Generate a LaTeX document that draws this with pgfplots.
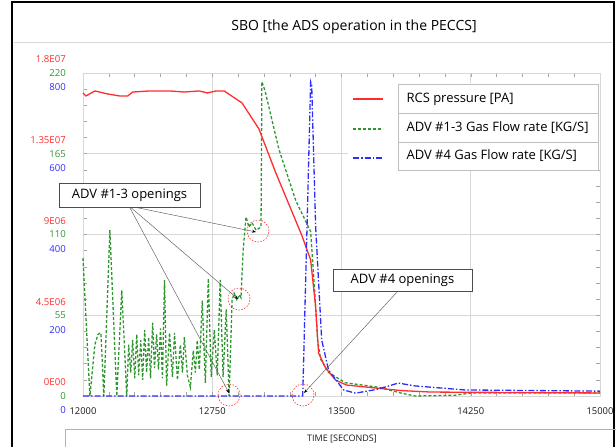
\documentclass[border=0pt]{standalone}
\usepackage{pgfplots}
\pgfplotsset{compat=1.18}
\usetikzlibrary{arrows.meta}
\usepackage{fontspec}
\setmainfont{Open Sans}

\definecolor{cred}{RGB}{255,45,45}
\definecolor{cgreen}{RGB}{45,150,45}
\definecolor{cblue}{RGB}{45,45,255}
\definecolor{gridc}{RGB}{215,215,215}

\pgfplotsset{
  base/.style={
    at={(83pt,51pt)}, anchor=south west, scale only axis,
    width=517pt, height=323pt,
    xmin=12000, xmax=15000,
    scaled ticks=false, clip=false,
    yticklabel style={font=\fontsize{9.6}{10}\selectfont, anchor=east, inner sep=0pt, xshift=-17pt},
  },
  bare/.style={
    axis line style={draw=none}, major tick style={draw=none}, minor tick style={draw=none},
    xtick=\empty,
  },
}

\begin{document}
\begin{tikzpicture}
\useasboundingbox (0,0) rectangle (616pt,447pt);

% ADV #1-3 gas flow, axis with grid
\begin{axis}[base,
  ymin=0, ymax=220,
  xtick={12000,12750,13500,14250,15000},
  xticklabels={12000,12750,13500,14250,15000},
  ytick={0,55,110,165,220},
  yticklabels={0,55,110,165,220},
  minor x tick num=4, minor y tick num=4,
  grid=major, grid style={gridc, line width=0.7pt},
  axis line style={gridc, line width=0.7pt},
  tick style={black!35, line width=0.5pt},
  major tick length=4pt, minor tick length=4pt,
  xticklabel style={font=\fontsize{9.4}{10}\selectfont, text=black!90, anchor=center, yshift=-15pt},
  yticklabel style={text=cgreen},
]
\addplot[cgreen, line width=1.3pt, dash pattern=on 3pt off 2pt] coordinates {
(12000,94) (12040,0) (12069,35) (12087,42) (12104,43) (12121,0) (12156,113)
(12196,0) (12225,72) (12254,0) (12265,35) (12277,16) (12288,38) (12300,12)
(12312,42) (12323,14) (12335,38) (12346,11) (12358,45) (12369,16) (12381,40)
(12392,12) (12404,50) (12415,19) (12427,42) (12438,18) (12450,46) (12461,12)
(12473,79) (12485,7) (12502,43) (12519,13) (12531,43) (12548,11) (12565,35)
(12577,16) (12588,40) (12606,14) (12623,6) (12640,31) (12652,16) (12663,38)
(12675,18) (12692,65) (12710,9) (12727,80) (12744,13) (12762,45) (12779,14)
(12796,79) (12813,13) (12831,59) (12848,0) (12865,65) (12877,70) (12894,65)
(12906,69) (12917,67) (12929,99) (12946,122) (12963,115) (12981,118) (13004,113)
(13033,115) (13038,214) (13056,208) (13137,168) (13235,133) (13321,112)
(13344,72) (13361,38) (13379,25) (13425,16) (13523,9) (13713,6) (13846,2)
(13927,0) (14158,0.5) (14250,2) (15000,2)
};
\end{axis}

% RCS pressure
\begin{axis}[base, bare,
  ymin=0, ymax=1.8e7,
  ytick={0,4.5e6,9e6,1.35e7,1.8e7},
  yticklabels={0E00,4.5E06,9E06,1.35E07,1.8E07},
  yticklabel style={text=cred, yshift=13.5pt},
]
\addplot[cred, line width=1.3pt] coordinates {
(12000,1.689e7) (12017,1.672e7) (12069,1.700e7) (12144,1.683e7) (12213,1.672e7)
(12260,1.672e7) (12288,1.694e7) (12387,1.700e7) (12502,1.700e7) (12588,1.694e7)
(12675,1.700e7) (12721,1.689e7) (12773,1.700e7) (12819,1.700e7) (12923,1.633e7)
(13021,1.488e7) (13119,1.243e7) (13269,8.97e6) (13321,7.58e6) (13350,4.96e6)
(13367,2.40e6) (13408,1.56e6) (13465,8.9e5) (13529,6.1e5) (13713,4.3e5)
(13850,3.0e5) (14019,2.2e5) (15000,1.7e5)
};
\end{axis}

% ADV #4 gas flow
\begin{axis}[base, bare,
  ymin=0, ymax=800,
  ytick={0,200,400,600,800},
  yticklabels={0,200,400,600,800},
  yticklabel style={text=cblue, yshift=-14.5pt},
]
\addplot[cblue, line width=1.3pt, dash pattern=on 6pt off 2pt on 1.5pt off 2pt] coordinates {
(12000,0) (13275,0) (13298,386) (13321,778) (13327,770) (13350,419) (13385,139)
(13425,64) (13512,15) (13581,7) (13713,17) (13829,32) (13927,25) (14215,15)
(15000,12)
};
\end{axis}

% frame and title
\draw[black, line width=2pt] (12pt,-3pt) -- (12pt,445pt) -- (614pt,445pt) -- (614pt,-3pt);
\draw[gridc, line width=0.7pt] (14pt,405pt) -- (612pt,405pt);
\node[font=\fontsize{14}{16}\selectfont, text=black] at (354pt,420pt) {SBO [the ADS operation in the PECCS]};
\draw[black!30, line width=0.7pt] (65pt,-5pt) -- (65pt,18pt) -- (620pt,18pt);
\node[font=\fontsize{9}{10}\selectfont, text=black!90] at (342pt,8pt) {TIME [SECONDS]};

% legend
\fill[white] (348pt,277pt) rectangle (600pt,364pt);
\draw[cred, line width=1.3pt] (353pt,348pt) -- (383pt,348pt);
\draw[cgreen, line width=1.3pt, dash pattern=on 3pt off 2pt] (353pt,318pt) -- (383pt,318pt);
\draw[cblue, line width=1.3pt, dash pattern=on 6pt off 2pt on 1.5pt off 2pt] (353pt,289pt) -- (383pt,289pt);
\draw[black!25, line width=0.8pt] (398pt,334pt) rectangle (598pt,363pt);
\draw[black!25, line width=0.8pt] (398pt,305pt) rectangle (598pt,334pt);
\draw[black!25, line width=0.8pt] (398pt,277pt) rectangle (598pt,305pt);
\node[anchor=west, font=\fontsize{13}{14}\selectfont] at (403pt,348pt) {RCS pressure [PA]};
\node[anchor=west, font=\fontsize{13}{14}\selectfont] at (403pt,319pt) {ADV \#1-3 Gas Flow rate [KG/S]};
\node[anchor=west, font=\fontsize{13}{14}\selectfont] at (403pt,291pt) {ADV \#4 Gas Flow rate [KG/S]};

% annotations
\tikzset{circ/.style={cred, line width=0.6pt, dash pattern=on 1.5pt off 1.5pt},
         arr/.style={black!60, line width=0.5pt, -{Stealth[length=4pt, width=3pt, black]}}}
\draw[circ] (258pt,216pt) circle (11pt);
\draw[circ] (239pt,148pt) circle (11pt);
\draw[circ] (229pt,52pt) circle (11pt);
\draw[circ] (303pt,52pt) circle (11pt);
\draw[arr] (129pt,241pt) -- (256pt,215pt);
\draw[arr] (129pt,241pt) -- (238pt,148pt);
\draw[arr] (129pt,241pt) -- (229pt,54pt);
\draw[arr] (398pt,156pt) -- (304pt,54pt);
\draw[black!70, fill=white, line width=0.7pt] (59pt,240pt) rectangle (200pt,264pt);
\node[font=\fontsize{13}{14}\selectfont] at (129.5pt,252pt) {ADV \#1-3 openings};
\draw[black!70, fill=white, line width=0.7pt] (333pt,156pt) rectangle (472pt,178pt);
\node[font=\fontsize{13}{14}\selectfont] at (402.5pt,167pt) {ADV \#4 openings};
\end{tikzpicture}
\end{document}
